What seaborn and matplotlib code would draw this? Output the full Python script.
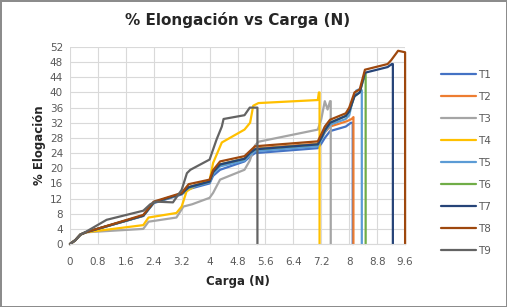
import pandas as pd
import numpy as np
import matplotlib
matplotlib.use("Agg")
import matplotlib.pyplot as plt
import seaborn as sns

# curves (Carga N, % elongacion)
start_x = [0, 0.15, 0.3, 0.45]
start_y = [0, 1, 2.5, 3.1]

t1_x = start_x + [2.1, 2.4, 3.1, 3.2, 3.4, 4.0, 4.1, 4.3, 5.0, 5.15, 5.3, 7.1, 7.2, 7.3, 7.45, 7.9, 8.05, 8.1, 8.1]
t1_y = start_y + [7.4, 10.8, 12.8, 13.1, 14.5, 16, 18, 19.6, 21.8, 23, 24, 25.3, 26.5, 28, 29.8, 31, 32, 32, 0]

t2_x = start_x + [2.1, 2.4, 3.1, 3.2, 3.4, 4.0, 4.1, 4.3, 5.0, 5.15, 5.3, 7.1, 7.2, 7.3, 7.45, 7.93, 8.07, 8.12, 8.12]
t2_y = start_y + [7.5, 11, 13, 13.3, 15, 16.5, 18.8, 21, 22.5, 24, 25.2, 26.5, 28, 29.5, 31, 32.4, 33, 33.5, 0]

t3_x = start_x + [2.1, 2.25, 3.05, 3.25, 3.5, 4.0, 4.1, 4.3, 5.0, 5.15, 5.3, 5.4, 7.1, 7.2, 7.3, 7.38, 7.45, 7.47, 7.47]
t3_y = start_y + [4.0, 5.9, 7.0, 9.9, 10.5, 12.2, 13.5, 17, 19.6, 22, 26, 27, 30.2, 33, 37.7, 35.5, 37.7, 37.7, 0]

t4_x = start_x + [2.1, 2.25, 3.05, 3.2, 3.34, 3.63, 4.0, 4.1, 4.35, 5.0, 5.16, 5.25, 5.4, 7.1, 7.13, 7.15, 7.15]
t4_y = start_y + [5, 7, 8.2, 9.9, 13.9, 15.6, 16.8, 21.4, 26.8, 30.2, 32, 36.5, 37.2, 38, 40, 40, 0]

t5_x = start_x + [2.1, 2.4, 3.1, 3.2, 3.4, 4.0, 4.1, 4.3, 5.0, 5.15, 5.3, 7.1, 7.2, 7.3, 7.45, 7.9, 8.0, 8.1, 8.2, 8.33, 8.36, 8.36]
t5_y = start_y + [7.5, 11, 13, 13.3, 14.8, 16.3, 18.5, 20.5, 22, 23.5, 24.5, 25.8, 27.5, 29.5, 31.5, 33, 34, 38, 40.5, 41, 40.5, 0]

t6_x = start_x + [2.1, 2.4, 3.1, 3.2, 3.4, 4.0, 4.1, 4.3, 5.0, 5.15, 5.3, 7.1, 7.2, 7.3, 7.45, 7.9, 8.0, 8.15, 8.3, 8.45, 8.47, 8.47]
t6_y = start_y + [7.5, 11, 13, 13.3, 15, 16.5, 19, 21, 22.5, 24, 25, 26.3, 28, 30, 32, 33.8, 35, 39, 40, 45, 45, 0]

t7_x = start_x + [2.1, 2.4, 3.1, 3.2, 3.4, 4.0, 4.1, 4.3, 5.0, 5.15, 5.3, 7.1, 7.2, 7.3, 7.45, 7.9, 8.0, 8.15, 8.3, 8.45, 9.1, 9.22, 9.25, 9.25]
t7_y = start_y + [7.5, 11, 13, 13.3, 15, 16.5, 19, 21, 22.5, 24, 25, 26.3, 28, 30, 32, 33.8, 35, 39, 40, 45.2, 46.7, 47.5, 47.5, 0]

t8_x = start_x + [2.1, 2.4, 3.1, 3.2, 3.4, 4.0, 4.1, 4.3, 5.0, 5.15, 5.3, 7.1, 7.2, 7.3, 7.45, 7.9, 8.0, 8.15, 8.3, 8.45, 9.1, 9.2, 9.4, 9.6, 9.6]
t8_y = start_y + [7.7, 11.2, 13.2, 13.5, 15.8, 17, 19.5, 21.8, 23.2, 24.5, 25.8, 27.1, 29, 31, 32.8, 34.5, 36, 40, 40.8, 46, 47.5, 48.5, 51, 50.6, 0]

t9_x = start_x + [1.05, 2.1, 2.3, 2.45, 2.95, 3.2, 3.35, 3.45, 4.0, 4.2, 4.35, 4.4, 5.0, 5.15, 5.37, 5.37]
t9_y = [0, 1, 2.5, 3.2] + [6.4, 8.8, 10.5, 11.2, 11, 14.3, 18.7, 19.6, 22.3, 27.6, 31, 33, 34, 36, 36, 0]

series = ['T1', 'T2', 'T3', 'T4', 'T5', 'T6', 'T7', 'T8', 'T9']
xs = [t1_x, t2_x, t3_x, t4_x, t5_x, t6_x, t7_x, t8_x, t9_x]
ys = [t1_y, t2_y, t3_y, t4_y, t5_y, t6_y, t7_y, t8_y, t9_y]

x_ticks = [0, 0.8, 1.6, 2.4, 3.2, 4, 4.8, 5.6, 6.4, 7.2, 8, 8.8, 9.6]
x_labels = ['0', '0.8', '1.6', '2.4', '3.2', '4', '4.8', '5.6', '6.4', '7.2', '8', '8.8', '9.6']
y_ticks = list(range(0, 53, 4))

colors = ['#4472C4', '#ED7D31', '#A5A5A5', '#FFC000', '#5B9BD5',
          '#70AD47', '#264478', '#9E480E', '#636363']

rows = []
for name, x, y in zip(series, xs, ys):
    for i in range(len(x)):
        rows.append({'serie': name, 'carga': x[i], 'elong': y[i]})
df = pd.DataFrame(rows)

sns.set_style("white")
fig = plt.figure(figsize=(5.07, 3.07), dpi=100)
fig.patch.set_edgecolor('#8c8c8c')
fig.patch.set_linewidth(1.0)
ax = fig.add_axes([0.138, 0.205, 0.661, 0.642])

sns.lineplot(data=df, x='carga', y='elong', hue='serie', palette=colors,
             sort=False, estimator=None, linewidth=1.6, ax=ax, clip_on=False)

ax.set_xlim(0, 9.6)
ax.set_ylim(0, 52)
ax.set_xticks(x_ticks)
ax.set_xticklabels(x_labels)
ax.set_yticks(y_ticks)
ax.grid(True, color='#d9d9d9', linewidth=0.8)
ax.set_axisbelow(True)
for s in ['top', 'right', 'left']:
    ax.spines[s].set_visible(False)
ax.spines['bottom'].set_color('#d9d9d9')
ax.tick_params(axis='y', labelsize=7.5, colors='#595959', length=0, pad=5)
ax.tick_params(axis='x', labelsize=7.5, colors='#595959', length=0, pad=9)

ax.set_title('% Elongación vs Carga (N)', fontsize=11, fontweight='bold', pad=16)
ax.set_xlabel('Carga (N)', fontsize=8.5, fontweight='bold', labelpad=6)
ax.set_ylabel('% Elogación', fontsize=8.5, fontweight='bold', labelpad=3)

ax.legend(loc='upper left', bbox_to_anchor=(1.08, 0.93), frameon=False,
          fontsize=7.5, handlelength=3.3, labelspacing=1.15, handletextpad=0.2,
          labelcolor='#595959')

fig.savefig('out.png', dpi=100)
